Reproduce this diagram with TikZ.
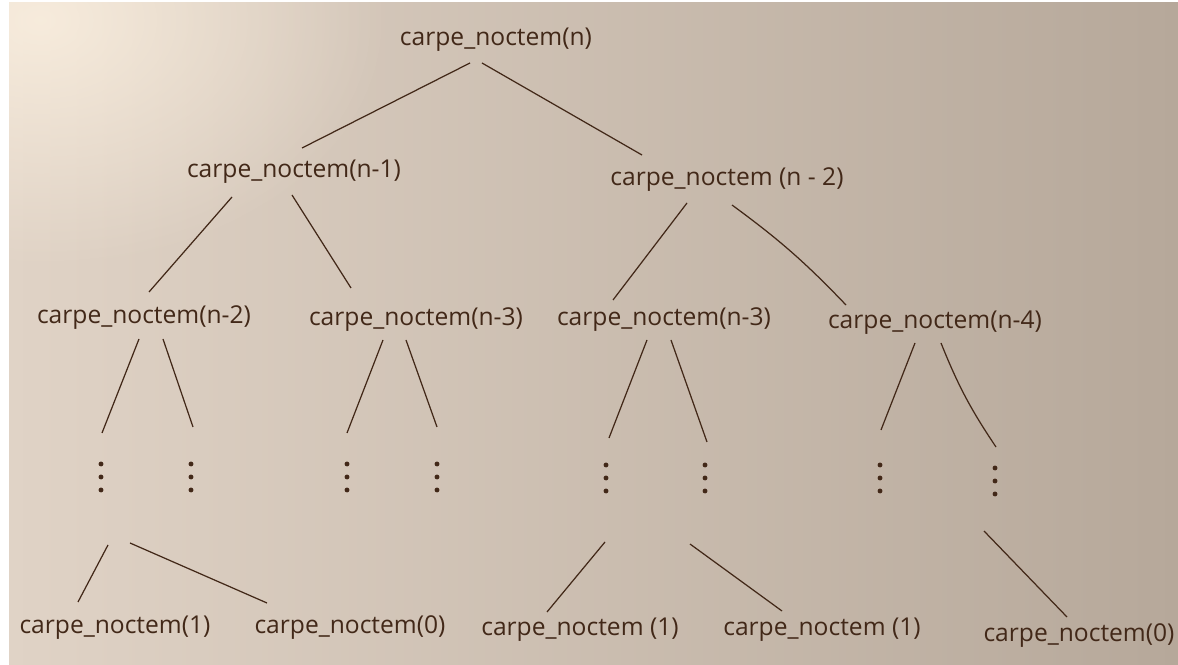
\documentclass[tikz,border=0pt]{standalone}
\usepackage{fontspec}
\setmainfont{Open Sans}
\usetikzlibrary{calc,fadings}
\definecolor{ink}{RGB}{66,40,24}
\definecolor{paperL}{RGB}{224,211,198}
\definecolor{paperR}{RGB}{182,168,154}
\definecolor{glow}{RGB}{255,244,228}
\tikzfading[name=softglow, inner color=transparent!0, outer color=transparent!100]
\tikzset{
  call/.style={font=\fontsize{14}{16}\selectfont, text=ink, inner sep=1pt},
  edge/.style={draw=ink, line width=0.7pt},
  dotcol/.style={inner sep=0pt, minimum width=4pt, minimum height=17pt}
}
\begin{document}
\begin{tikzpicture}[x=0.02cm, y=-0.02cm]
\def\dsp{13};

\useasboundingbox (0,0) rectangle (1178,665);
\fill[white] (0,0) rectangle (1178,665);
\shade[left color=paperL, right color=paperR] (9,3) rectangle (1178,665);
\begin{scope}
\clip (9,3) rectangle (1178,665);
\fill[glow, opacity=0.75, path fading=softglow] (40,20) ellipse (7cm and 5cm);
\end{scope}

\node[call] (top) at (496,40) {carpe\_noctem(n)};

\node[call] (l) at (294,172) {carpe\_noctem(n-1)};
\node[call] (r) at (727,180) {carpe\_noctem (n - 2)};

\node[call] (ll) at (144,318) {carpe\_noctem(n-2)};
\node[call] (lr) at (416,320) {carpe\_noctem(n-3)};
\node[call] (rl) at (664,320) {carpe\_noctem(n-3)};
\node[call] (rr) at (935,323) {carpe\_noctem(n-4)};

\node[dotcol] (dll1) at (101,477) {};
\node[dotcol] (dll2) at (191,477) {};
\node[dotcol] (dlr1) at (347,477) {};
\node[dotcol] (dlr2) at (437,477) {};
\node[dotcol] (drl1) at (606,478) {};
\node[dotcol] (drl2) at (705,478) {};
\node[dotcol] (drr1) at (880,478) {};
\node[dotcol] (drr2) at (995,481) {};
\foreach \d in {dll1,dll2,dlr1,dlr2,drl1,drl2,drr1,drr2}
  \foreach \k in {-1,0,1}
    \fill[ink] ($(\d)+(0,\k*\dsp)$) circle (1.4pt);

\node[call] (b1) at (115,628) {carpe\_noctem(1)};
\node[call] (b2) at (350,628) {carpe\_noctem(0)};
\node[call] (b3) at (580,630) {carpe\_noctem (1)};
\node[call] (b4) at (822,630) {carpe\_noctem (1)};
\node[call] (b5) at (1079,636) {carpe\_noctem(0)};

\draw[edge] ($(top)+(-26,23)$) -- ($(l)+(8,-24)$);
\draw[edge] ($(top)+(-14,23)$) -- ($(r)+(-85,-25)$);

\draw[edge] ($(l)+(-62,25)$) -- ($(ll)+(5,-26)$);
\draw[edge] ($(l)+(-2,23)$) -- ($(lr)+(-65,-32)$);
\draw[edge] ($(r)+(-40,23)$) -- ($(rl)+(-51,-20)$);
\draw[edge] ($(r)+(5,25)$) to[bend left=5] ($(rr)+(-89,-18)$);

\draw[edge] ($(ll)+(-5,21)$) -- ($(dll1)+(1,-44)$);
\draw[edge] ($(ll)+(19,21)$) -- ($(dll2)+(2,-50)$);
\draw[edge] ($(lr)+(-33,20)$) -- ($(dlr1)+(0,-44)$);
\draw[edge] ($(lr)+(-10,20)$) -- ($(dlr2)+(0,-50)$);
\draw[edge] ($(rl)+(-17,20)$) -- ($(drl1)+(3,-40)$);
\draw[edge] ($(rl)+(7,20)$) -- ($(drl2)+(2,-36)$);
\draw[edge] ($(rr)+(-20,20)$) -- ($(drr1)+(1,-48)$);
\draw[edge] ($(rr)+(6,20)$) to[bend right=6] ($(drr2)+(1,-34)$);

\draw[edge] ($(dll1)+(7,68)$) -- ($(b1)+(-37,-26)$);
\draw[edge] ($(dll1)+(29,66)$) -- ($(b2)+(-83,-25)$);
\draw[edge] ($(drl1)+(-1,64)$) -- ($(b3)+(-33,-18)$);
\draw[edge] ($(drl2)+(-15,66)$) -- ($(b4)+(-40,-19)$);
\draw[edge] ($(drr2)+(-11,50)$) -- ($(b5)+(-12,-19)$);

\end{tikzpicture}
\end{document}
